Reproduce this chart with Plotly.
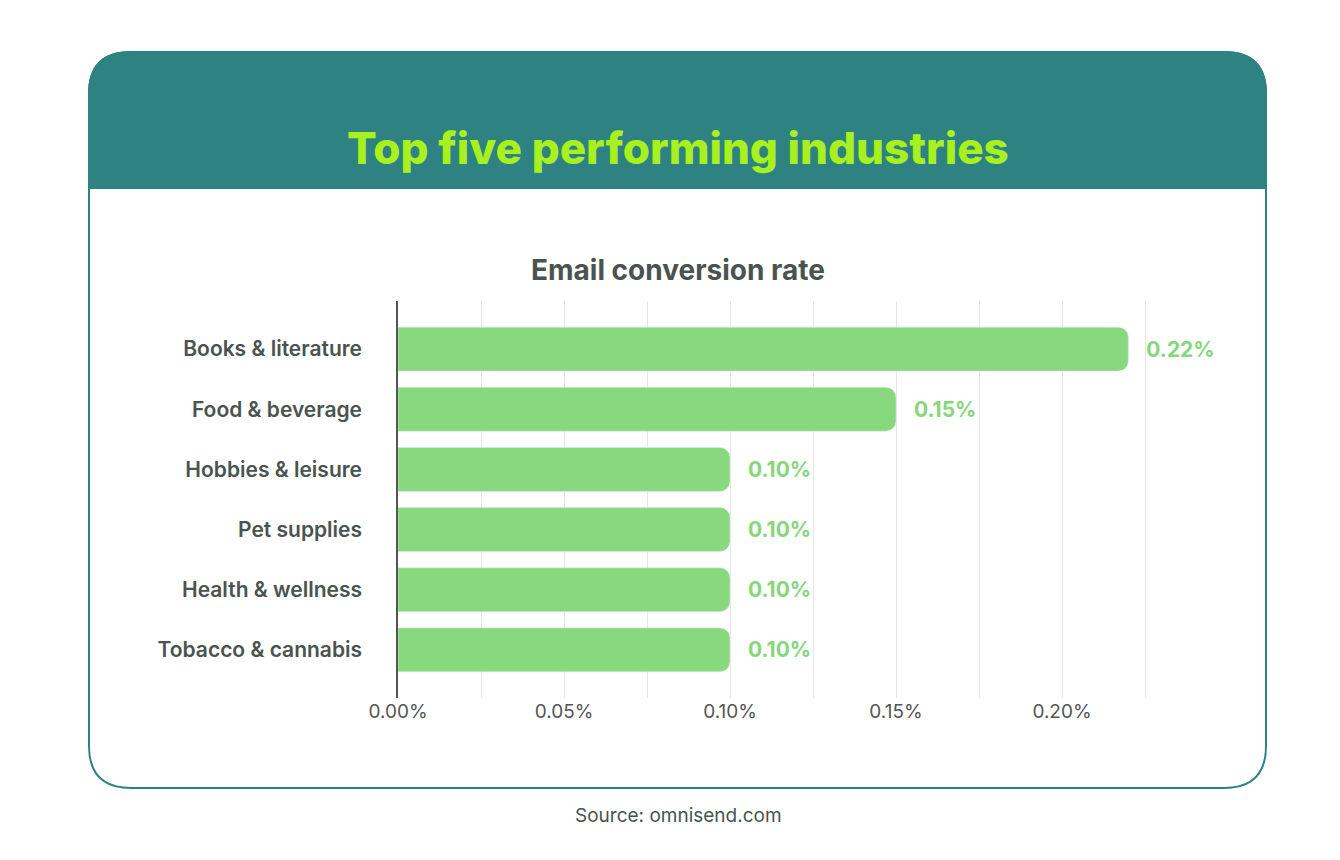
import plotly.graph_objects as go

categories = ["Books & literature", "Food & beverage", "Hobbies & leisure",
              "Pet supplies", "Health & wellness", "Tobacco & cannabis"]
values = [0.22, 0.15, 0.10, 0.10, 0.10, 0.10]
tick_vals = [0, 0.025, 0.05, 0.075, 0.10, 0.125, 0.15, 0.175, 0.20, 0.225]
tick_text = ["0.00%", "", "0.05%", "", "0.10%", "", "0.15%", "", "0.20%", ""]

W, H = 1340, 860
def px(x): return x / W
def py(y): return 1 - y / H

TEAL = "#2E8382"
fig = go.Figure(go.Bar(
    x=values, y=categories, orientation="h",
    marker=dict(color="#88D87E"),
    width=0.73,
    text=[f"   {v:.2f}%" for v in values], textposition="outside",
    textfont=dict(family="Inter", size=21, color="#86D77C", weight=700),
    cliponaxis=False, hoverinfo="skip",
))

def rr(x0, y0, x1, y1, r, top_only=False):
    X0, X1 = px(x0), px(x1)
    Y0, Y1 = py(y0), py(y1)
    rx, ry = r / W, r / H
    if top_only:
        return (f"M {X0},{Y1} L {X0},{Y0-ry} Q {X0},{Y0} {X0+rx},{Y0} "
                f"L {X1-rx},{Y0} Q {X1},{Y0} {X1},{Y0-ry} L {X1},{Y1} Z")
    return (f"M {X0+rx},{Y0} L {X1-rx},{Y0} Q {X1},{Y0} {X1},{Y0-ry} "
            f"L {X1},{Y1+ry} Q {X1},{Y1} {X1-rx},{Y1} L {X0+rx},{Y1} "
            f"Q {X0},{Y1} {X0},{Y1+ry} L {X0},{Y0-ry} Q {X0},{Y0} {X0+rx},{Y0} Z")

shapes = [
    dict(type="path", xref="paper", yref="paper", path=rr(81, 44, 1258, 780, 42),
         fillcolor="white", line=dict(color=TEAL, width=2), layer="below"),
    dict(type="path", xref="paper", yref="paper", path=rr(81, 44, 1258, 180, 42, top_only=True),
         fillcolor=TEAL, line=dict(color=TEAL, width=2), layer="below"),
]

fig.update_layout(
    width=W, height=H, margin=dict(l=0, r=0, t=0, b=0, autoexpand=False),
    paper_bgcolor="white", plot_bgcolor="rgba(0,0,0,0)",
    shapes=shapes, showlegend=False, barcornerradius=10,
    xaxis=dict(domain=[px(390), px(390 + 0.24 * 3320)], range=[0, 0.24],
               tickvals=tick_vals, ticktext=tick_text, showgrid=True, automargin=False,
               gridcolor="#E6E6E6", gridwidth=1, zeroline=False, showline=False,
               ticks="", tickfont=dict(family="Inter", size=19, color="#555"),
               fixedrange=True),
    yaxis=dict(domain=[py(690), py(293)], range=[5.8, -0.8], showline=True, automargin=False,
               linecolor="#555", linewidth=1.5, ticks="", ticklabelstandoff=30,
               tickfont=dict(family="Inter", size=21, color="#4A5350", weight=600),
               fixedrange=True),
    annotations=[
        dict(text="Top five performing industries", x=px(670), y=py(111), xref="paper", yref="paper",
             showarrow=False, font=dict(family="Inter", size=44, color="#A8F01E", weight=800)),
        dict(text="Email conversion rate", x=px(670), y=py(243), xref="paper", yref="paper",
             showarrow=False, font=dict(family="Inter", size=28, color="#4A5350", weight=700)),
        dict(text="Source: omnisend.com", x=px(670), y=py(821), xref="paper", yref="paper",
             showarrow=False, font=dict(family="Inter", size=19, color="#4A5350")),
    ],
)
fig.write_html("out.html")
